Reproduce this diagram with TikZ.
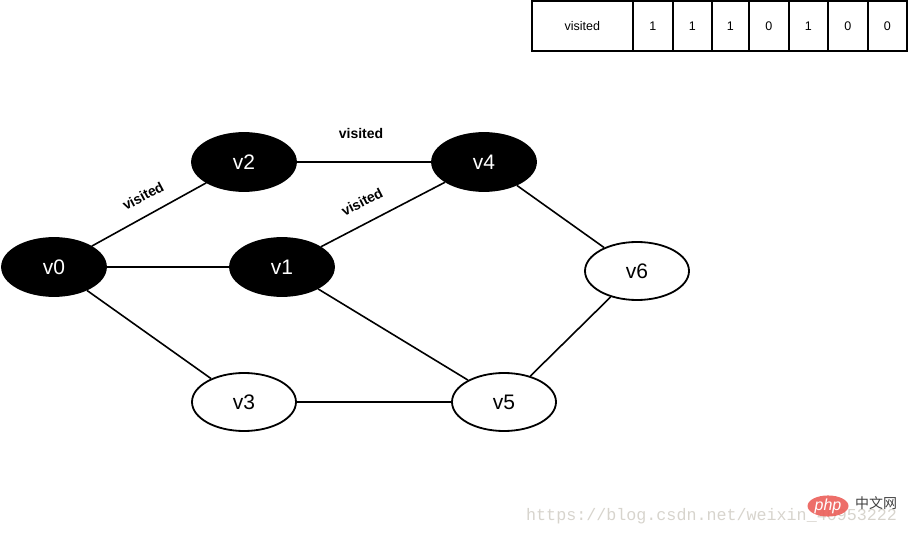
\documentclass[tikz,border=0pt]{standalone}
\usepackage{fontspec}
\setmainfont{Liberation Sans}
\newfontfamily\cjk{Noto Sans CJK SC}
\newfontfamily\wmfont{Liberation Mono}
\usetikzlibrary{shapes.geometric}
\definecolor{wmgray}{RGB}{215,212,205}
\definecolor{phpred}{RGB}{236,98,92}
\begin{document}
\begin{tikzpicture}[x=1pt,y=-1pt,
  vtx/.style={ellipse,draw=black,line width=1.8pt,minimum width=104pt,minimum height=58pt,inner sep=0pt,font=\fontsize{21}{22}\selectfont},
  done/.style={vtx,fill=black,text=white},
  open/.style={vtx,fill=white,text=black},
  edge/.style={line width=1.6pt,draw=black},
  lbl/.style={font=\bfseries\fontsize{14}{15}\selectfont,inner sep=1pt},
  cell/.style={draw=black,line width=1.8pt,minimum height=50pt,inner sep=0pt,font=\fontsize{12.5}{13}\selectfont,anchor=west}]
\useasboundingbox (0,0) rectangle (908,537);
\node[done] (v0) at (54,267) {v0};
\node[done] (v2) at (244,162) {v2};
\node[done] (v4) at (484,162) {v4};
\node[done] (v1) at (282,267) {v1};
\node[open] (v6) at (637,271) {v6};
\node[open] (v3) at (244,402) {v3};
\node[open] (v5) at (504,402) {v5};
\draw[edge] (v0) -- (v2);
\draw[edge] (v0) -- (v1);
\draw[edge] (v0) -- (v3);
\draw[edge] (v2) -- (v4);
\draw[edge] (v1) -- (v4);
\draw[edge] (v1) -- (v5);
\draw[edge] (v4) -- (v6);
\draw[edge] (v6) -- (v5);
\draw[edge] (v3) -- (v5);
\node[lbl,rotate=28] (l1) at (143,196) {visited};
\node[lbl] (l2) at (361,133) {visited};
\node[lbl,rotate=27] (l3) at (362,202) {visited};
% table
\node[cell,minimum width=101pt] (t0) at (531,26) {visited};
\node[cell,minimum width=40pt] (t1) at (632,26) {1};
\node[cell,minimum width=39pt] (t2) at (672,26) {1};
\node[cell,minimum width=37pt] (t3) at (711,26) {1};
\node[cell,minimum width=40pt] (t4) at (748,26) {0};
\node[cell,minimum width=39pt] (t5) at (788,26) {1};
\node[cell,minimum width=40pt] (t6) at (827,26) {0};
\node[cell,minimum width=39pt] (t7) at (867,26) {0};
% watermark
\node[anchor=west,text=wmgray,font=\wmfont\fontsize{16.7}{17}\selectfont,inner sep=0pt] (url) at (526,516) {https://blog.csdn.net/weixin\_40953222};
\node[ellipse,fill=phpred,fill opacity=0.92,text opacity=1,minimum width=41pt,minimum height=19pt,inner sep=0pt,text=white,font=\itshape\fontsize{16}{16}\selectfont] (php) at (828,506) {php};
\node[anchor=west,text=black!75,font=\cjk\fontsize{14}{15}\selectfont,inner sep=0pt] (cn) at (855,503.5) {中文网};
\end{tikzpicture}
\end{document}
